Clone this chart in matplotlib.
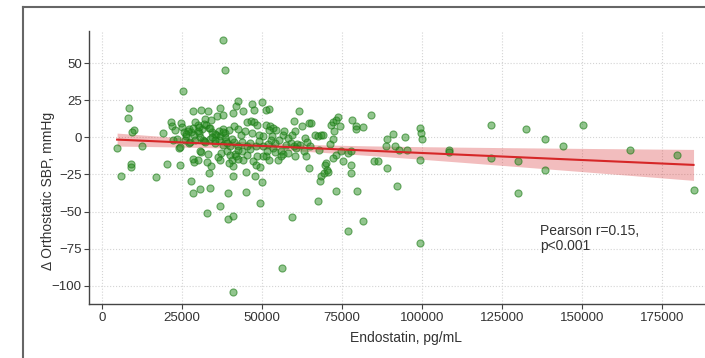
import numpy as np
import matplotlib
matplotlib.use("Agg")
import matplotlib.pyplot as plt
from matplotlib.lines import Line2D

# Endostatin (pg/mL) and delta orthostatic SBP (mmHg)
endostatin = [
    4810, 5940, 8490, 8070, 10050, 9620, 9200, 9200, 12740, 17120,
    19100, 20520, 21500, 22070, 23060, 22200, 24050, 24480, 25470, 24900,
    25050, 25750, 23630, 24340, 27880, 28440, 30850, 33820, 32970, 36930,
    39340, 39620, 41040, 41180, 38060, 38490, 45000, 49530, 50230, 47830,
    45000, 41180, 33540, 34240, 28870, 27170, 28440, 30140, 31700, 32830,
    31130, 33110, 36220, 37210, 39200, 40190, 41600, 42450, 41180, 44150,
    45280, 46410, 47400, 48110, 49380, 51220, 52360, 51650, 53490, 54200,
    56030, 56600, 56460, 59430, 60000, 60560, 61980, 61690, 60000, 62540,
    64810, 65370, 63390, 64240, 65090, 64810, 66790, 67640, 68490, 69050,
    67920, 67640, 68210, 68630, 69330, 69900, 70180, 70470, 70750, 71460,
    72170, 72730, 71600, 72170, 73160, 73860, 74430, 73160, 72310, 74710,
    75280, 73160, 76980, 77820, 78110, 79520, 79520, 81650, 84050, 77820,
    77820, 79800, 76980, 81510, 85180, 86310, 89000, 88860, 91120, 91680,
    92820, 92260, 89140, 94660, 95510, 99330, 99750, 100040, 99610, 99330,
    108390, 108670, 121550, 121550, 130040, 130040, 132440, 138390, 138390, 144190,
    150270, 165130, 179850, 184950,
    28440, 31130, 33110, 32270, 34240, 36080, 37070, 37920, 42120, 42690,
    40890, 44290, 46840, 47690, 49950, 51220, 52360, 45420, 46560, 47690,
    48680, 51220, 52640, 53630, 54340, 52220, 56600, 55470, 53210, 54060,
    50510, 49100, 46980, 44860, 43440, 42450, 41320, 39900, 38490, 37780,
    36790, 35660, 34530, 33540, 32550, 31410, 30000, 28870, 27880, 27170,
    30000, 29010, 26460, 26040, 27450, 29290, 30710, 32120, 33960, 35380,
    36790, 37780, 38910, 40190, 41320, 42730, 43860, 45280, 46270, 48110,
    49100, 50510, 51930, 52920, 58300, 57590, 59010, 61130, 60840, 63250,
    63960, 58300, 56170, 55040, 50510, 48680, 43720, 42730, 40610, 38490,
    37070, 35380, 33960, 32120, 30280, 28580, 26880, 26460, 30280, 34530,
    35380, 38060, 39200, 40610, 42020, 39900, 37070, 32270, 30850, 60420,
    59430, 56880,
]
delta_sbp = [
    -7.2, -25.9, 19.6, 12.8, 5.2, 3.4, -18.0, -20.3, -6.1, -27.0,
    2.9, -18.0, 10.1, 7.9, 5.2, -1.6, -7.2, -18.9, 31.1, 9.7,
    7.0, 3.8, -1.1, -6.5, -29.3, -37.2, -34.9, -34.2, -51.1, -46.2,
    -37.2, -55.2, -52.9, -104.3, 65.5, 45.7, -36.5, -43.9, -30.4, -25.9,
    -23.0, -25.9, -24.1, -19.6, -16.9, -4.0, -14.6, -15.1, -2.0, -16.9,
    -10.1, -11.3, -13.5, -10.6, -9.5, -11.7, -11.0, -14.6, -19.6, -15.1,
    -11.7, -7.9, -16.2, -18.5, -20.3, -12.8, -15.1, -9.5, -7.2, -10.1,
    -9.5, -11.3, -88.3, -53.4, -6.1, -12.8, -5.0, 18.0, 11.3, 7.9,
    9.7, 9.7, -0.5, -3.4, -6.1, -20.7, 1.8, 1.1, 1.8, 1.4,
    -8.3, -43.2, -29.3, -26.3, -24.1, -18.9, -17.3, -22.3, -23.6, -4.5,
    -1.1, 4.1, 8.6, 10.1, 11.9, 13.7, 7.9, -11.7, -14.0, -9.5,
    -16.2, -36.0, -10.6, -9.5, 11.9, 7.9, 5.6, 7.0, 14.9, -18.5,
    -24.1, -36.0, -63.1, -56.3, -16.2, -16.2, -1.1, -6.1, 2.0, -6.1,
    -8.8, -33.1, -20.9, 0.0, -8.8, 6.3, 2.9, -1.1, -15.1, -70.9,
    -8.8, -10.1, 8.6, -14.0, -37.2, -16.2, 5.6, -1.1, -22.3, -6.1,
    8.6, -8.3, -12.2, -35.4,
    18.0, 18.7, 18.0, 12.6, 11.5, 14.2, 19.6, 15.3, 21.4, 24.3,
    16.4, 18.0, 22.5, 18.7, 23.9, 18.7, 19.1, 10.1, 10.8, 10.1,
    8.6, 8.6, 7.9, 6.3, 5.2, 4.7, 1.8, -1.6, 0.7, -3.8,
    0.7, 1.8, 2.9, 4.1, 1.8, 5.6, 7.4, 4.7, 2.9, 5.6,
    4.1, 1.8, 3.4, 6.3, 8.6, 5.6, 4.1, 1.8, 3.4, 5.6,
    8.6, 10.4, 0.7, -1.6, -3.4, -1.6, 0.2, -2.7, -1.1, -3.8,
    -1.6, -5.0, -2.7, -5.6, -3.4, -6.1, -3.4, -6.1, -3.8, -5.6,
    -2.7, -6.1, -4.3, -1.6, -0.5, -5.0, -3.8, -4.5, -7.2, -9.5,
    -12.6, -10.6, -12.8, -15.1, -12.8, -12.8, -9.5, -8.3, -1.0, 0.5,
    1.0, 2.5, 6.0, 9.0, 7.0, 6.5, 4.5, 2.0, 3.0, 0.0,
    -2.0, 3.5, -4.0, -15.5, -12.8, -17.3, -15.1, -3.0, -9.0, 4.1,
    1.8, 4.1,
]
x_ticks = [0, 25000, 50000, 75000, 100000, 125000, 150000, 175000]
y_ticks = [-100, -75, -50, -25, 0, 25, 50]
annotation = "Pearson r=0.15,\np<0.001"

plt.rcParams['font.family'] = ['Liberation Sans', 'DejaVu Sans']

x = np.array(endostatin, dtype=float)
y = np.array(delta_sbp, dtype=float)

W, H = 705, 358
fig = plt.figure(figsize=(W / 100, H / 100), dpi=100)
ax = fig.add_axes([89.3 / W, 1 - 304 / H, 630 / W, (304 - 30.7) / H])

ax.scatter(x, y, s=26, facecolors=(0.15, 0.55, 0.12, 0.5), edgecolors=(0.1, 0.48, 0.08, 0.6),
           linewidths=0.8, zorder=3)

# linear fit with 95% confidence band
n = len(x)
slope, intercept = np.polyfit(x, y, 1)
xs = np.linspace(x.min(), x.max(), 200)
ys = intercept + slope * xs
resid = y - (intercept + slope * x)
s_err = np.sqrt(np.sum(resid ** 2) / (n - 2))
sxx = np.sum((x - x.mean()) ** 2)
se = s_err * np.sqrt(1 / n + (xs - x.mean()) ** 2 / sxx)
ax.fill_between(xs, ys - 1.97 * se, ys + 1.97 * se, color='#d62728', alpha=0.3, linewidth=0, zorder=2)
ax.plot(xs, ys, color='#d62728', lw=1.5, zorder=4)

ax.text(137000, -68, annotation, fontsize=10, color='#333333', ha='left', va='center', linespacing=1.1)

ax.set_xlim(-3875, 193000)
ax.set_ylim(-112.3, 71.9)
ax.set_xticks(x_ticks)
ax.set_yticks(y_ticks)
ax.grid(True, color='#d4d4d4', linestyle=':', linewidth=0.8)
ax.set_axisbelow(True)
for side in ['top', 'right']:
    ax.spines[side].set_visible(False)
for side in ['left', 'bottom']:
    ax.spines[side].set_color('#444444')
    ax.spines[side].set_linewidth(1.0)
ax.tick_params(axis='x', pad=2)
ax.tick_params(axis='y', pad=2)
ax.tick_params(axis='both', labelsize=9.5, colors='#444444', labelcolor='#333333', length=3.5, width=0.8)
ax.set_xlabel('Endostatin, pg/mL', fontsize=10, color='#333333')
ax.set_ylabel('Δ Orthostatic SBP, mmHg', fontsize=10, color='#333333')
ax.xaxis.set_label_coords((406 - 89.3) / 630, (304 - 331) / (304 - 30.7))
ax.yaxis.set_label_coords((55 - 89.3) / 630, (304 - 191) / (304 - 30.7))

# outer frame of the screenshot
fig.add_artist(Line2D([22.7 / W, 1.0], [1 - 7.3 / H] * 2, color='#666666', lw=1.5, transform=fig.transFigure))
fig.add_artist(Line2D([22.7 / W] * 2, [1 - 7.3 / H, 0.0], color='#666666', lw=1.5, transform=fig.transFigure))

fig.savefig('out.png', dpi=100, facecolor='white')
